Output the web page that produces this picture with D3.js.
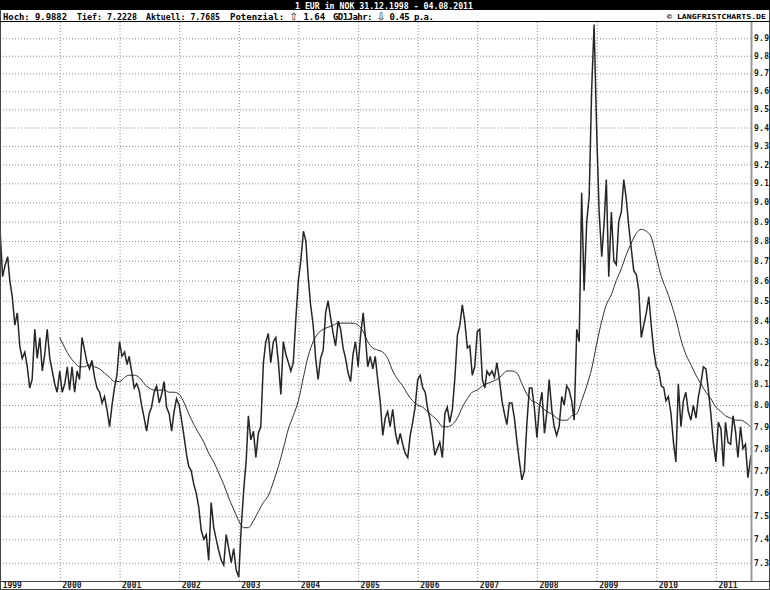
<!DOCTYPE html>
<html>
<head>
<meta charset="utf-8">
<script src="https://cdn.jsdelivr.net/npm/d3@7"></script>
<style>
body { margin: 0; background: #fff; }
svg { display: block; }
text { font-family: "DejaVu Sans Mono", monospace; font-weight: bold; }
</style>
</head>
<body>
<svg id="chart" width="770" height="590"></svg>
<script>
// 1 EUR in NOK, half-monthly readings 1999 .. Aug 2011
const startDate = new Date(1998, 11, 31);
const endDate = new Date(2011, 7, 4);

const rates = [
    // 1999
    8.86, 8.62, 8.68, 8.72, 8.60, 8.52, 8.38, 8.44, 8.28, 8.22, 8.25, 8.18,
    8.08, 8.12, 8.36, 8.22, 8.32, 8.16, 8.24, 8.36, 8.22, 8.16, 8.10, 8.06,
    // 2000
    8.16, 8.06, 8.10, 8.18, 8.07, 8.18, 8.06, 8.16, 8.12, 8.32, 8.26, 8.20,
    8.17, 8.21, 8.13, 8.08, 8.06, 8.01, 8.04, 7.98, 7.90, 8.00, 8.08, 8.14,
    // 2001
    8.30, 8.23, 8.25, 8.19, 8.23, 8.16, 8.08, 8.10, 8.07, 8.00, 7.94, 7.88,
    7.96, 7.99, 8.06, 8.09, 8.01, 8.05, 8.11, 7.99, 7.96, 7.88, 7.97, 8.03,
    // 2002
    8.00, 7.93, 7.85, 7.77, 7.72, 7.70, 7.64, 7.60, 7.54, 7.44, 7.40, 7.42,
    7.31, 7.56, 7.45, 7.40, 7.35, 7.31, 7.29, 7.42, 7.36, 7.30, 7.36, 7.27,
    // 2003
    7.24, 7.45, 7.62, 7.75, 7.95, 7.84, 7.88, 7.76, 7.87, 7.90, 8.20, 8.30,
    8.34, 8.20, 8.30, 8.32, 8.20, 8.05, 8.30, 8.24, 8.20, 8.16, 8.20, 8.40,
    // 2004
    8.60, 8.70, 8.85, 8.80, 8.62, 8.48, 8.38, 8.22, 8.12, 8.22, 8.26, 8.44,
    8.50, 8.42, 8.34, 8.28, 8.40, 8.36, 8.27, 8.22, 8.15, 8.11, 8.24, 8.30,
    // 2005
    8.18, 8.33, 8.44, 8.31, 8.18, 8.23, 8.17, 8.23, 8.12, 8.02, 7.86, 7.94,
    7.97, 7.90, 7.98, 7.88, 7.82, 7.87, 7.82, 7.78, 7.76, 7.86, 7.92, 7.99,
    // 2006
    8.12, 8.14, 8.08, 8.06, 7.99, 7.94, 7.86, 7.77, 7.80, 7.83, 7.76, 7.96,
    7.99, 7.92, 7.98, 8.12, 8.33, 8.38, 8.48, 8.40, 8.27, 8.28, 8.14, 8.18,
    // 2007
    8.35, 8.36, 8.12, 8.08, 8.16, 8.14, 8.16, 8.13, 8.20, 8.12, 8.02, 7.96,
    7.91, 8.01, 8.01, 7.94, 7.83, 7.74, 7.66, 7.70, 7.92, 8.08, 8.08, 7.99,
    // 2008
    7.85, 7.99, 8.06, 7.87, 7.96, 8.12, 7.98, 7.90, 7.86, 7.90, 8.04, 8.00,
    8.09, 8.07, 8.02, 7.93, 8.36, 8.30, 9.05, 8.55, 8.90, 9.03, 9.60, 9.98,
    // 2009
    9.38, 8.95, 8.72, 8.90, 9.12, 8.62, 8.95, 8.70, 8.68, 8.90, 8.95, 9.12,
    9.02, 8.88, 8.76, 8.65, 8.63, 8.55, 8.32, 8.38, 8.44, 8.52, 8.38, 8.26,
    // 2010
    8.18, 8.16, 8.09, 8.08, 8.02, 8.04, 7.96, 7.83, 7.74, 8.10, 7.90, 8.02,
    8.06, 7.97, 7.93, 8.00, 7.94, 8.04, 8.10, 8.18, 8.17, 8.07, 7.96, 7.83,
    // 2011
    7.74, 7.92, 7.89, 7.72, 7.92, 7.83, 7.82, 7.95, 7.88, 7.76, 7.90, 7.80,
    7.82, 7.67, 7.77
];

// 1-year moving average, monthly from Jan 2000
const movingAvg = [
    8.32, 8.27, 8.23, 8.20, 8.18, 8.18, 8.19, 8.18, 8.17, 8.15, 8.13, 8.11,
    8.11, 8.13, 8.14, 8.14, 8.13, 8.10, 8.08, 8.07, 8.07, 8.07, 8.06, 8.06,
    8.05, 8.01, 7.96, 7.91, 7.87, 7.83, 7.78, 7.74, 7.69, 7.64, 7.58, 7.53,
    7.48, 7.45, 7.45, 7.48, 7.52, 7.56, 7.59, 7.65, 7.72, 7.80, 7.89, 7.95,
    8.02, 8.13, 8.23, 8.30, 8.34, 8.36, 8.37, 8.38, 8.39, 8.39, 8.39, 8.39,
    8.38, 8.35, 8.30, 8.27, 8.26, 8.25, 8.22, 8.16, 8.12, 8.09, 8.05, 8.02,
    8.00, 7.99, 7.97, 7.95, 7.93, 7.90, 7.90, 7.91, 7.94, 7.99, 8.03, 8.06,
    8.07, 8.09, 8.10, 8.11, 8.12, 8.14, 8.16, 8.16, 8.15, 8.10, 8.05, 8.02,
    8.01, 7.99, 7.97, 7.96, 7.94, 7.93, 7.93, 7.95, 7.96, 8.02, 8.09, 8.17,
    8.29, 8.40, 8.48, 8.53, 8.60, 8.66, 8.73, 8.79, 8.84, 8.86, 8.85, 8.82,
    8.72, 8.62, 8.56, 8.49, 8.41, 8.31, 8.24, 8.19, 8.14, 8.10, 8.06, 8.03,
    7.99, 7.97, 7.95, 7.94, 7.93, 7.93, 7.92, 7.90
];

const years = ['1999', '2000', '2001', '2002', '2003', '2004', '2005',
    '2006', '2007', '2008', '2009', '2010', '2011'];

const yTicks = [7.3, 7.4, 7.5, 7.6, 7.7, 7.8, 7.9, 8.0, 8.1, 8.2, 8.3, 8.4, 8.5,
    8.6, 8.7, 8.8, 8.9, 9.0, 9.1, 9.2, 9.3, 9.4, 9.5, 9.6, 9.7, 9.8, 9.9];

const title = '1 EUR in NOK 31.12.1998 - 04.08.2011';
// each info item: [before arrow, arrow, after arrow]
const infoParts = [
    ['Hoch: 9.9882', '', ''],
    ['Tief: 7.2228', '', ''],
    ['Aktuell: 7.7685', '', ''],
    ['Potenzial: ', '\u21E7', ' 1.64'],
    ['GD1Jahr: ', '\u21E9', ' 0.45 p.a.']
];
const copyright = '\u00A9 LANGFRISTCHARTS.DE';

// layout
const W = 770, H = 590;
const plot = { left: 0, right: 751, top: 22, bottom: 581 };
const infoX = [3, 77, 146, 230, 333];
const infoW = [64, 60, 74, null, null];
const infoSpacing = [null, null, null, '0px', '-0.55px'];

const rateDates = rates.map((v, i) => {
    if (i === 0) return startDate;
    if (i === rates.length - 1) return endDate;
    return new Date(1999 + Math.floor(i / 24), Math.floor((i % 24) / 2), i % 2 ? 16 : 1);
});
const maDates = movingAvg.map((v, i) => new Date(2000, i, 1));
const yearDates = years.map(d => new Date(+d, 0, 1));

const svg = d3.select('#chart');

const x = d3.scaleTime().domain([startDate, endDate]).range([plot.left, plot.right]);
const y = d3.scaleLog().domain([7.3, 9.9]).range([562.7, 38.3]);

svg.append('rect')
    .attr('width', W).attr('height', H).attr('fill', '#fff');

// vertical grid (year boundaries)
svg.append('g')
    .attr('transform', `translate(0,${plot.bottom})`)
    .call(d3.axisBottom(x).tickValues(yearDates.slice(1))
        .tickSize(-(plot.bottom - plot.top)).tickFormat(''))
    .call(g => g.select('.domain').remove())
    .selectAll('line')
    .attr('stroke', '#8c8c8c')
    .attr('stroke-dasharray', '1,2');

// horizontal grid
svg.append('g')
    .attr('transform', `translate(${plot.right},0)`)
    .call(d3.axisLeft(y).tickValues(yTicks)
        .tickSize(plot.right - plot.left).tickFormat(''))
    .call(g => g.select('.domain').remove())
    .selectAll('line')
    .attr('stroke', '#8c8c8c')
    .attr('stroke-dasharray', '1,2');

// right value labels
svg.append('g')
    .attr('transform', `translate(${plot.right},0)`)
    .call(d3.axisRight(y).tickValues(yTicks).tickSize(0).tickPadding(3)
        .tickFormat(d3.format('.1f')))
    .call(g => g.select('.domain').remove())
    .call(g => g.attr('font-family', null).attr('font-size', null))
    .selectAll('text')
    .attr('font-size', '8px')
    .attr('fill', '#222')
    .attr('letter-spacing', '0.3px');

svg.append('clipPath').attr('id', 'clip')
    .append('rect')
    .attr('x', plot.left).attr('y', plot.top)
    .attr('width', plot.right - plot.left).attr('height', plot.bottom - plot.top);

const priceLine = d3.line()
    .x((d, i) => x(rateDates[i]))
    .y(d => y(d));

svg.append('path')
    .datum(rates)
    .attr('clip-path', 'url(#clip)')
    .attr('fill', 'none')
    .attr('stroke', '#262626')
    .attr('stroke-width', 1.5)
    .attr('stroke-linejoin', 'miter')
    .attr('d', priceLine);

const maLine = d3.line()
    .x((d, i) => x(maDates[i]))
    .y(d => y(d))
    .curve(d3.curveMonotoneX);

svg.append('path')
    .datum(movingAvg)
    .attr('clip-path', 'url(#clip)')
    .attr('fill', 'none')
    .attr('stroke', '#1a1a1a')
    .attr('stroke-width', 0.9)
    .attr('d', maLine);

// frame
svg.append('line')
    .attr('x1', plot.right + 0.5).attr('x2', plot.right + 0.5)
    .attr('y1', plot.top).attr('y2', plot.bottom)
    .attr('stroke', '#999').attr('stroke-width', 2);
svg.append('line')
    .attr('x1', 0.5).attr('x2', 0.5)
    .attr('y1', plot.top).attr('y2', plot.bottom)
    .attr('stroke', '#333').attr('stroke-dasharray', '1,1');
svg.append('line')
    .attr('x1', 0).attr('x2', W)
    .attr('y1', plot.bottom + 0.5).attr('y2', plot.bottom + 0.5)
    .attr('stroke', '#444');
svg.append('rect')
    .attr('x', 0.5).attr('y', 0.5).attr('width', W - 1).attr('height', H - 1)
    .attr('fill', 'none').attr('stroke', '#444');

// year labels
svg.append('g').selectAll('text')
    .data(years)
    .join('text')
    .attr('x', (d, i) => x(yearDates[i]) + 2.5)
    .attr('y', 588)
    .attr('font-size', '8px')
    .attr('fill', '#222')
    .text(d => d);

// header
svg.append('rect')
    .attr('x', 0).attr('y', 0).attr('width', W).attr('height', 10)
    .attr('fill', '#000');
svg.append('text')
    .attr('x', 295).attr('y', 8.5)
    .attr('font-size', '9px')
    .attr('fill', '#fff')
    .attr('textLength', 178)
    .attr('lengthAdjust', 'spacingAndGlyphs')
    .text(title);

svg.append('line')
    .attr('x1', 0).attr('x2', W)
    .attr('y1', plot.top - 0.5).attr('y2', plot.top - 0.5)
    .attr('stroke', '#000');

const info = svg.append('g').selectAll('text')
    .data(infoParts)
    .join('text')
    .attr('x', (d, i) => infoX[i])
    .attr('y', 19.5)
    .attr('font-size', '9px')
    .attr('fill', '#000')
    .attr('letter-spacing', (d, i) => infoSpacing[i])
    .attr('textLength', (d, i) => infoW[i])
    .attr('lengthAdjust', (d, i) => infoW[i] ? 'spacingAndGlyphs' : null);

info.append('tspan').text(d => d[0]);
info.filter(d => d[1]).append('tspan')
    .attr('font-family', '"DejaVu Sans", sans-serif')
    .attr('font-weight', 'normal')
    .attr('font-size', '10px')
    .text(d => d[1]);
info.filter(d => d[2]).append('tspan').text(d => d[2]);

svg.append('text')
    .attr('x', 667).attr('y', 19)
    .attr('font-size', '7px')
    .attr('fill', '#000')
    .attr('textLength', 99)
    .attr('lengthAdjust', 'spacingAndGlyphs')
    .text(copyright);
</script>
</body>
</html>
